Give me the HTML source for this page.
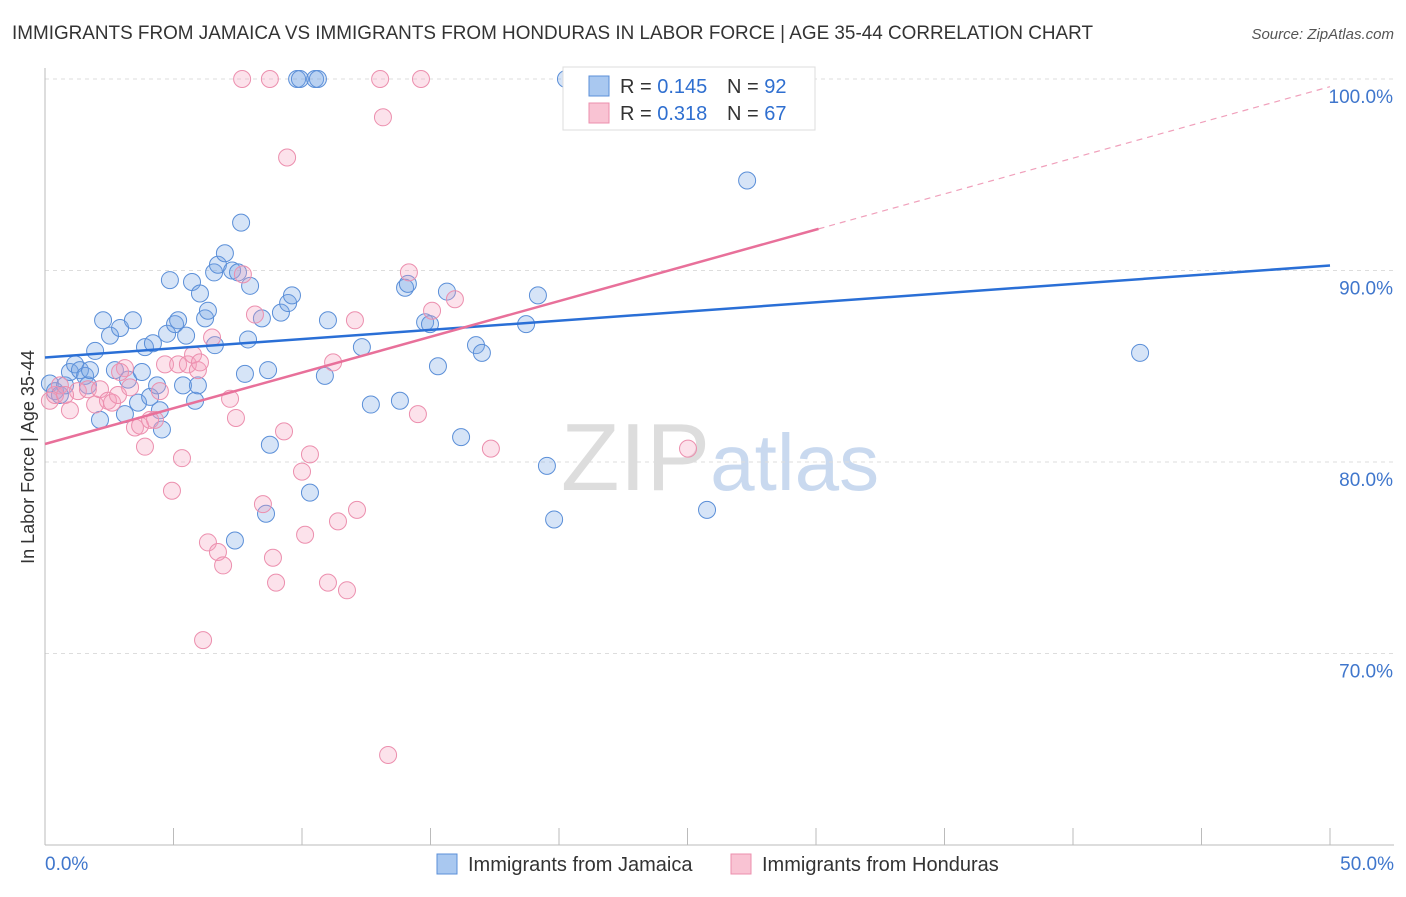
<!DOCTYPE html>
<html><head><meta charset="utf-8"><style>
body{margin:0;background:#fff;font-family:"Liberation Sans",sans-serif;}
svg text{font-family:"Liberation Sans",sans-serif;}
</style></head><body>
<svg id="chart" width="1406" height="892" xmlns="http://www.w3.org/2000/svg">
<text x="12" y="39" font-size="19" fill="#333" textLength="1081" lengthAdjust="spacingAndGlyphs">IMMIGRANTS FROM JAMAICA VS IMMIGRANTS FROM HONDURAS IN LABOR FORCE | AGE 35-44 CORRELATION CHART</text>
<text x="1394" y="39" font-size="15" fill="#555" text-anchor="end" font-style="italic">Source: ZipAtlas.com</text>
<text transform="translate(34,457) rotate(-90)" font-size="18" fill="#333" text-anchor="middle">In Labor Force | Age 35-44</text>
<text x="720" y="490" font-size="96" fill="#ddd" text-anchor="middle" font-family="Liberation Serif">ZIP<tspan fill="#c9d9ef" font-family="Liberation Sans" font-size="80">atlas</tspan></text>
<g id="grid"></g><g id="axes"></g><g id="pts"></g><g id="lines"></g>
<g>
<rect x="563" y="67" width="252" height="63" fill="#fff" stroke="#ddd"/>
<rect x="589" y="76" width="20" height="20" fill="#a9c8f0" stroke="#5b8fd8"/>
<rect x="589" y="103" width="20" height="20" fill="#f9c3d3" stroke="#ec8fae"/>
<text x="620" y="93" font-size="20" fill="#333">R = <tspan fill="#2f6fd0">0.145</tspan><tspan x="727">N = </tspan><tspan fill="#2f6fd0">92</tspan></text>
<text x="620" y="120" font-size="20" fill="#333">R = <tspan fill="#2f6fd0">0.318</tspan><tspan x="727">N = </tspan><tspan fill="#2f6fd0">67</tspan></text>
</g>
<g>
<rect x="437" y="854" width="20" height="20" fill="#a9c8f0" stroke="#5b8fd8"/>
<text x="468" y="871" font-size="20" fill="#333">Immigrants from Jamaica</text>
<rect x="731" y="854" width="20" height="20" fill="#f9c3d3" stroke="#ec8fae"/>
<text x="762" y="871" font-size="20" fill="#333">Immigrants from Honduras</text>
</g>
</svg>
<script>
const yTicks=[70,80,90,100];
const xTickLabels=["0.0%","50.0%"];
const blueX=[0.19,0.39,0.58,0.78,0.97,1.17,1.36,1.56,1.67,1.95,2.14,2.26,2.53,2.72,2.92,3.11,3.23,3.42,3.62,3.89,4.09,4.20,4.36,4.47,4.55,4.75,4.86,5.06,5.18,5.37,5.49,5.72,5.84,5.95,6.03,6.23,6.34,6.58,6.73,7.00,7.28,7.51,7.63,7.78,7.90,7.98,8.44,8.68,8.75,8.60,9.18,9.46,9.61,9.81,9.92,10.51,10.62,10.31,10.89,11.01,12.33,12.68,13.81,14.01,14.12,14.79,14.98,15.29,15.64,16.19,16.77,17.00,18.72,19.18,19.53,19.81,20.27,25.76,27.32,42.61,7.39,6.61,3.77,1.75];
const blueY=[84.1,83.7,83.5,84.0,84.7,85.1,84.8,84.5,84.0,85.8,82.2,87.4,86.6,84.8,87.0,82.5,84.3,87.4,83.1,86.0,83.4,86.2,84.0,82.7,81.7,86.7,89.5,87.2,87.4,84.0,86.6,89.4,83.2,84.0,88.8,87.5,87.9,89.9,90.3,90.9,90.0,89.9,92.5,84.6,86.4,89.2,87.5,84.8,80.9,77.3,87.8,88.3,88.7,100,100,100,100,78.4,84.5,87.4,86.0,83.0,83.2,89.1,89.3,87.3,87.2,85.0,88.9,81.3,86.1,85.7,87.2,88.7,79.8,77.0,100,77.5,94.7,85.7,75.9,86.1,84.7,84.8];
const pinkX=[0.19,0.39,0.58,0.97,1.28,1.67,1.95,2.14,2.45,2.61,2.84,3.11,3.31,3.50,3.70,3.89,4.28,4.47,4.67,4.94,5.18,5.33,5.56,5.76,5.95,6.15,6.34,6.50,6.73,6.93,7.20,7.43,7.67,7.70,8.17,8.48,8.75,8.87,8.99,9.30,9.42,10.00,10.12,10.31,11.01,11.21,11.40,11.75,12.06,12.14,13.04,13.15,13.35,14.16,14.51,14.63,15.06,15.95,17.35,23.85,25.02,27.35,28.13,2.92,0.78,4.09,6.03];
const pinkY=[83.2,83.5,84.0,82.7,83.7,83.8,83.0,83.8,83.2,83.1,83.5,84.9,83.9,81.8,81.9,80.8,82.2,83.7,85.1,78.5,85.1,80.2,85.1,85.6,84.8,70.7,75.8,86.5,75.3,74.6,83.3,82.3,100,89.8,87.7,77.8,100,75.0,73.7,81.6,95.9,79.5,76.2,80.4,73.7,85.2,76.9,73.3,87.4,77.5,100,98.0,64.7,89.9,82.5,100,87.9,88.5,80.7,98.0,80.7,97.8,99.7,84.7,83.5,82.2,85.2];
const blueTrend=[85.46,90.26];
const pinkTrend=[80.94,99.6];
const pinkSolidEnd=30.1;

const NS="http://www.w3.org/2000/svg";
const X0=45,X1=1330,Y60=845,PX10=19.15;
const sx=v=>X0+(v/50)*(X1-X0);
const sy=v=>Y60-(v-60)*PX10;
function mk(tag,attrs,parent){const e=document.createElementNS(NS,tag);for(const k in attrs)e.setAttribute(k,attrs[k]);parent.appendChild(e);return e;}
const grid=document.getElementById('grid'),axes=document.getElementById('axes'),pts=document.getElementById('pts'),lines=document.getElementById('lines');
yTicks.forEach(t=>{
  const l=mk('line',{x1:X0,x2:1394,y1:sy(t),y2:sy(t),stroke:'#ddd','stroke-dasharray':'4,4'},grid);
  
  
  const tx=mk('text',{x:1393,y:sy(t)+24,'font-size':19,fill:'#3f76cc','text-anchor':'end'},grid);
  tx.textContent=t.toFixed(1)+'%';
  
  
});
const ax=mk('line',{x1:X0,x2:1394,y1:Y60,y2:Y60,stroke:'#bbb'},axes);


const ay=mk('line',{x1:X0,x2:X0,y1:68,y2:Y60,stroke:'#bbb'},axes);


for(let i=1;i<=10;i++){const t=mk('line',{x1:sx(i*5),x2:sx(i*5),y1:828,y2:Y60,stroke:'#bbb'},axes);
  
  }
[[xTickLabels[0],X0,'start'],[xTickLabels[1],1394,'end']].forEach(([s,x,a])=>{
  const t=mk('text',{x:x,y:870,'font-size':19,fill:'#3f76cc','text-anchor':a},axes);t.textContent=s;
  
  
});
blueX.forEach((v,i)=>{const c=mk('circle',{cx:sx(v),cy:sy(blueY[i]),r:8.5,fill:'rgba(120,165,230,0.3)',stroke:'#5b8fd8','stroke-width':1},pts);
  
  });
pinkX.forEach((v,i)=>{const c=mk('circle',{cx:sx(v),cy:sy(pinkY[i]),r:8.5,fill:'rgba(245,160,190,0.3)',stroke:'#ec8fae','stroke-width':1},pts);
  
  });
const bl=mk('line',{x1:sx(0),y1:sy(blueTrend[0]),x2:sx(50),y2:sy(blueTrend[1]),stroke:'#2a6fd6','stroke-width':2.5},lines);


const pAt=x=>pinkTrend[0]+(pinkTrend[1]-pinkTrend[0])*x/50;
const pl=mk('line',{x1:sx(0),y1:sy(pinkTrend[0]),x2:sx(pinkSolidEnd),y2:sy(pAt(pinkSolidEnd)),stroke:'#e8709a','stroke-width':2.5},lines);


const pd=mk('line',{x1:sx(pinkSolidEnd),y1:sy(pAt(pinkSolidEnd)),x2:sx(50),y2:sy(pinkTrend[1]),stroke:'#f0a0bb','stroke-width':1.2,'stroke-dasharray':'6,5'},lines);


</script>
</body></html>
